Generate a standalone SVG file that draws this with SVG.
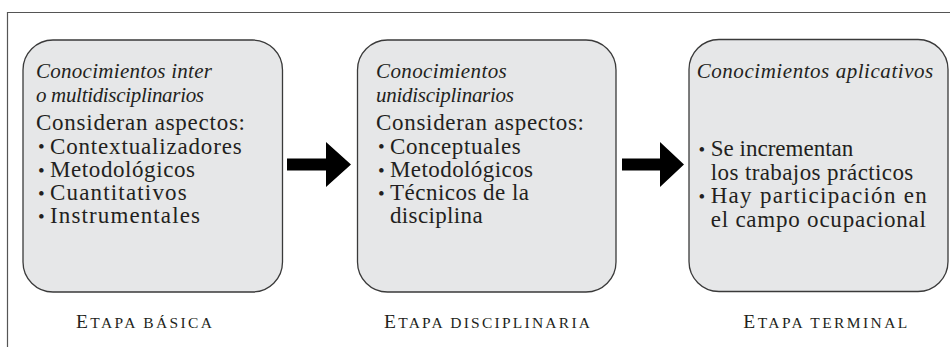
<svg xmlns="http://www.w3.org/2000/svg" width="950" height="347" viewBox="0 0 950 347">
<style>
  .frame { fill: none; stroke: #555; stroke-width: 1.2; }
  .box { fill: #e6e7e8; stroke: #3a3a3a; stroke-width: 1.3; }
  .arrow { fill: #000; }
</style>
<rect width="950" height="347" fill="#fff"/>
<path class="frame" d="M7.5,347 V12.5 H950"/>

<g id="node-basica" font-family="Liberation Serif, Times New Roman, serif" fill="#231f20" font-size="23">
  <rect class="box" x="23" y="40" width="259.5" height="252" rx="30" ry="30"/>
  <text font-style="italic" font-size="21" x="36" y="78" textLength="176" lengthAdjust="spacing">Conocimientos inter</text>
  <text font-style="italic" font-size="21" x="36" y="101.5" textLength="168" lengthAdjust="spacing">o multidisciplinarios</text>
  <text x="36" y="130" textLength="209" lengthAdjust="spacing">Consideran aspectos:</text>
  <text font-size="19" x="38" y="153">•</text>
  <text x="50" y="153.5" textLength="191.7" lengthAdjust="spacing">Contextualizadores</text>
  <text font-size="19" x="38" y="176.5">•</text>
  <text x="50" y="177" textLength="145" lengthAdjust="spacing">Metodológicos</text>
  <text font-size="19" x="38" y="199.5">•</text>
  <text x="50" y="200" textLength="136.7" lengthAdjust="spacing">Cuantitativos</text>
  <text font-size="19" x="38" y="222.5">•</text>
  <text x="50" y="223" textLength="150" lengthAdjust="spacing">Instrumentales</text>
  <text font-size="19.5" x="76" y="328" textLength="136" lengthAdjust="spacing">E<tspan font-size="15.5">TAPA BÁSICA</tspan></text>
</g>

<g id="node-disciplinaria" font-family="Liberation Serif, Times New Roman, serif" fill="#231f20" font-size="23">
  <rect class="box" x="357.5" y="40" width="258.5" height="252" rx="30" ry="30"/>
  <text font-style="italic" font-size="21" x="376" y="78" textLength="130.7" lengthAdjust="spacing">Conocimientos</text>
  <text font-style="italic" font-size="21" x="376" y="101.5" textLength="138" lengthAdjust="spacing">unidisciplinarios</text>
  <text x="376" y="130" textLength="208" lengthAdjust="spacing">Consideran aspectos:</text>
  <text font-size="19" x="378" y="153">•</text>
  <text x="390" y="153.5" textLength="130.7" lengthAdjust="spacing">Conceptuales</text>
  <text font-size="19" x="378" y="176.5">•</text>
  <text x="390" y="177" textLength="143" lengthAdjust="spacing">Metodológicos</text>
  <text font-size="19" x="378" y="199.5">•</text>
  <text x="390" y="200" textLength="139" lengthAdjust="spacing">Técnicos de la</text>
  <text x="390" y="223" textLength="92.7" lengthAdjust="spacing">disciplina</text>
  <text font-size="19.5" x="384" y="328" textLength="206" lengthAdjust="spacing">E<tspan font-size="15.5">TAPA DISCIPLINARIA</tspan></text>
</g>

<g id="node-terminal" font-family="Liberation Serif, Times New Roman, serif" fill="#231f20" font-size="23">
  <rect class="box" x="689" y="39.5" width="259" height="252" rx="30" ry="30"/>
  <text font-style="italic" font-size="21" x="696.7" y="77.5" textLength="236.6" lengthAdjust="spacing">Conocimientos aplicativos</text>
  <text font-size="19" x="698.5" y="155.5">•</text>
  <text x="710.7" y="156" textLength="142.6" lengthAdjust="spacing">Se incrementan</text>
  <text x="710.7" y="179.5" textLength="202.6" lengthAdjust="spacing">los trabajos prácticos</text>
  <text font-size="19" x="698.5" y="202.5">•</text>
  <text x="710.7" y="203" textLength="216" lengthAdjust="spacing">Hay participación en</text>
  <text x="710.7" y="226.5" textLength="215.3" lengthAdjust="spacing">el campo ocupacional</text>
  <text font-size="19.5" x="743.3" y="328" textLength="164" lengthAdjust="spacing">E<tspan font-size="15.5">TAPA TERMINAL</tspan></text>
</g>

<g id="connectors">
  <polygon class="arrow" points="287,158.5 326,158.5 326,142 351,164.5 326,187 326,170.5 287,170.5"/>
  <polygon class="arrow" points="622,158.5 660,158.5 660,142 684,164.5 660,187 660,170.5 622,170.5"/>
</g>
</svg>
